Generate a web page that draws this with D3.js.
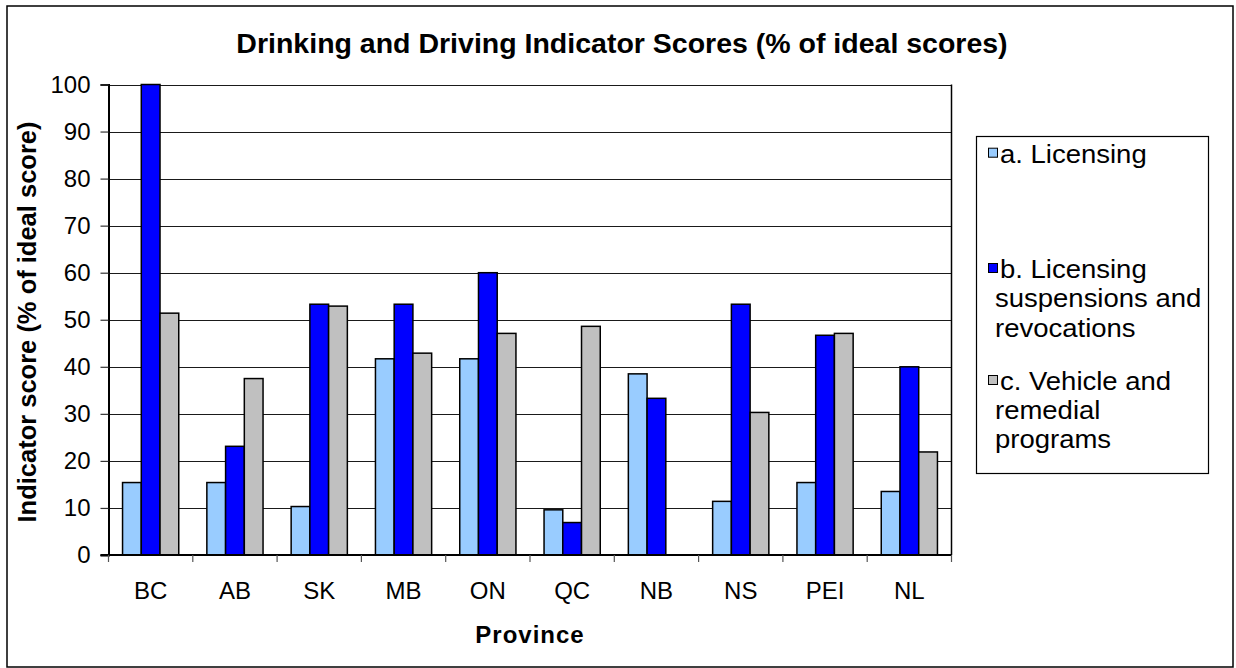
<!DOCTYPE html>
<html>
<head>
<meta charset="utf-8">
<script src="https://cdn.jsdelivr.net/npm/d3@7"></script>
<style>
  html, body { margin: 0; padding: 0; background: #fff; }
  svg { display: block; font-family: "Liberation Sans", Arial, sans-serif; }
  svg text { font-family: "Liberation Sans", Arial, sans-serif; }
</style>
</head>
<body>
<svg id="chart" width="1236" height="668"></svg>
<script>
const categories = ["BC", "AB", "SK", "MB", "ON", "QC", "NB", "NS", "PEI", "NL"];
const seriesNames = ["a. Licensing", "b. Licensing suspensions and revocations", "c. Vehicle and remedial programs"];
const licensing   = [15.4, 15.4, 10.3, 41.7, 41.7, 9.6, 38.5, 11.4, 15.4, 13.5];
const suspensions = [100, 23.1, 53.3, 53.3, 60.0, 6.9, 33.3, 53.3, 46.7, 40.0];
const vehicle     = [51.4, 37.5, 52.9, 42.9, 47.1, 48.6, 0, 30.3, 47.1, 21.9];
const yTicks = [0, 10, 20, 30, 40, 50, 60, 70, 80, 90, 100];
const legendLines = [["a. Licensing"], ["b. Licensing", "suspensions and", "revocations"], ["c. Vehicle and", "remedial", "programs"]];
const colors = ["#99CCFF", "#0000FF", "#C0C0C0"];
const titleText = "Drinking and Driving Indicator Scores (% of ideal scores)";
const yTitle = "Indicator score (% of ideal score)";
const xTitle = "Province";

const seriesValues = [licensing, suspensions, vehicle];
const svg = d3.select("#chart");

// outer border
svg.append("rect").attr("x", 7).attr("y", 6).attr("width", 1226).attr("height", 661)
  .attr("fill", "#fff").attr("stroke", "#000").attr("stroke-width", 1.5);

const plot = { left: 108.5, right: 951.5, top: 84.5, bottom: 555 };
const x = d3.scaleBand().domain(categories).range([plot.left, plot.right]).padding(0);
const xs = d3.scaleBand().domain(d3.range(3)).range([0, x.bandwidth()]).paddingInner(0).paddingOuter(0.75);
const y = d3.scaleLinear().domain([0, 100]).range([plot.bottom, plot.top]);

// gridlines
svg.append("g").selectAll("line").data(yTicks.filter(d => d > 0)).join("line")
  .attr("x1", plot.left).attr("x2", plot.right)
  .attr("y1", d => Math.round(y(d)) + 0.5).attr("y2", d => Math.round(y(d)) + 0.5)
  .attr("stroke", "#1a1a1a").attr("stroke-width", 1.2);

// plot right border
svg.append("line").attr("x1", plot.right).attr("x2", plot.right).attr("y1", plot.top).attr("y2", plot.bottom)
  .attr("stroke", "#000").attr("stroke-width", 1.5);

// bars
const barData = [];
categories.forEach((c, i) => seriesValues.forEach((vals, s) => {
  if (vals[i] > 0) barData.push({ c, s, v: vals[i] });
}));
svg.append("g").selectAll("rect").data(barData).join("rect")
  .attr("x", d => x(d.c) + xs(d.s))
  .attr("width", xs.bandwidth())
  .attr("y", d => y(d.v))
  .attr("height", d => y(0) - y(d.v))
  .attr("fill", d => colors[d.s])
  .attr("stroke", "#000").attr("stroke-width", 1.5);

// y axis
const yAxis = d3.axisLeft(y).tickValues(yTicks).tickSize(8).tickPadding(10).tickFormat(d3.format("d"));
const gy = svg.append("g").attr("transform", `translate(${plot.left},0)`).call(yAxis);
gy.attr("font-family", null);
gy.select(".domain").attr("stroke", "#000").attr("stroke-width", 2);
gy.selectAll(".tick line").attr("stroke", "#333").attr("stroke-width", 1.2);
gy.selectAll(".tick text").attr("font-size", 24).attr("fill", "#000");

// x axis
const gx = svg.append("g").attr("transform", `translate(0,${plot.bottom})`);
gx.append("line").attr("x1", plot.left - 8).attr("x2", plot.right).attr("y1", 0).attr("y2", 0)
  .attr("stroke", "#000").attr("stroke-width", 2);
const boundaries = categories.map(c => x(c)).concat([plot.right]);
gx.selectAll("line.tk").data(boundaries).join("line").attr("class", "tk")
  .attr("x1", d => d).attr("x2", d => d).attr("y1", 0).attr("y2", 7)
  .attr("stroke", "#555").attr("stroke-width", 1.2);
gx.selectAll("text").data(categories).join("text")
  .attr("x", d => x(d) + x.bandwidth() / 2).attr("y", 44)
  .attr("text-anchor", "middle").attr("font-size", 24).attr("fill", "#000")
  .text(d => d);

// titles
svg.append("text").attr("x", 622).attr("y", 53).attr("text-anchor", "middle")
  .attr("font-size", 28.5).attr("font-weight", "bold").text(titleText);
svg.append("text").attr("x", (plot.left + plot.right) / 2).attr("y", 643).attr("text-anchor", "middle")
  .attr("font-size", 24).attr("font-weight", "bold").attr("letter-spacing", 1).text(xTitle);
svg.append("text").attr("transform", `translate(36,322) rotate(-90)`)
  .attr("text-anchor", "middle").attr("font-size", 25.5).attr("font-weight", "bold").text(yTitle);

// legend
const lg = svg.append("g");
lg.append("rect").attr("x", 976.5).attr("y", 136.5).attr("width", 232).attr("height", 337)
  .attr("fill", "#fff").attr("stroke", "#000").attr("stroke-width", 1.2);
const legendBaselines = [[162.7], [278, 307, 337], [390, 419, 448]];
legendLines.forEach((lines, s) => {
  lg.append("rect").attr("x", 988.5).attr("y", legendBaselines[s][0] - 14.5).attr("width", 9).attr("height", 9)
    .attr("fill", colors[s]).attr("stroke", "#000").attr("stroke-width", 1);
  lines.forEach((t, k) => {
    lg.append("text")
      .attr("transform", `translate(${k === 0 ? 1000 : 995},${legendBaselines[s][k]}) scale(1.1,1)`)
      .attr("font-size", 25).attr("fill", "#000").text(t);
  });
});
</script>
</body>
</html>
